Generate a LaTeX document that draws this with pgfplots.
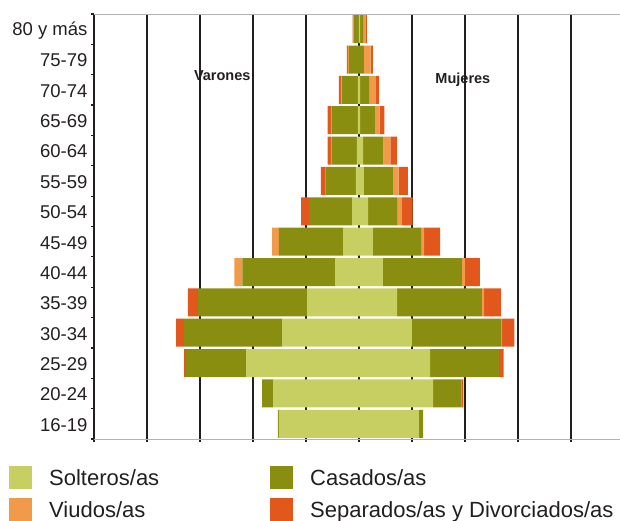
\documentclass[border=0pt]{standalone}
\usepackage{fontspec}
\setmainfont{Liberation Sans}
\usepackage{pgfplots}
\usepackage{pgfplotstable}
\pgfplotsset{compat=1.18}
\definecolor{solt}{HTML}{C8CF62}
\definecolor{casa}{HTML}{8A8E10}
\definecolor{viud}{HTML}{F09A4A}
\definecolor{sepa}{HTML}{E2571B}
\definecolor{ink}{HTML}{231F20}

% y: 0 = 16-19 ... 13 = 80 y mas ; s Solteros, c Casados, v Viudos, d Separados/Divorciados
\pgfplotstableread{
y s c v d
0 1.51 0.02 0 0
1 1.62 0.21 0 0
2 2.13 1.13 0 0.04
3 1.45 1.85 0 0.15
4 0.98 2.06 0 0.19
5 0.45 1.75 0.15 0
6 0.30 1.21 0.13 0
7 0.13 0.81 0 0.15
8 0.06 0.57 0 0.09
9 0.04 0.47 0.02 0.06
10 0.02 0.49 0.02 0.06
11 0.02 0.31 0.01 0.04
12 0 0.19 0.02 0.02
13 0 0.10 0.01 0.01
}\men

\pgfplotstableread{
y s c v d
0 1.13 0.08 0 0
1 1.40 0.53 0 0.04
2 1.34 1.30 0 0.09
3 1.00 1.68 0.02 0.23
4 0.72 1.60 0.04 0.32
5 0.45 1.49 0.06 0.28
6 0.26 0.91 0.06 0.30
7 0.17 0.55 0.08 0.21
8 0.09 0.55 0.11 0.17
9 0.08 0.38 0.13 0.13
10 0.02 0.28 0.09 0.09
11 0.02 0.17 0.13 0.06
12 0 0.09 0.13 0.04
13 0.02 0.06 0.04 0.03
}\women

\pgfplotsset{
  base/.style={scale only axis, width=526pt, height=425pt,
    at={(0,0)}, anchor=south west,
    xmin=-5, xmax=4.925, ymin=-0.5, ymax=13.5,
    xbar stacked, bar width=28pt},
  legbase/.style={scale only axis, width=526pt, height=425pt,
    at={(0,0)}, anchor=south west, hide axis,
    xmin=0, xmax=1, ymin=0, ymax=1,
    legend cell align=left,
    legend image code/.code={\fill[##1] (0pt,-11pt) rectangle (23pt,12pt);},
    legend style={draw=none, fill=none, inner sep=0pt, column sep=17pt, row sep=9pt,
      font=\fontsize{22}{24}\selectfont, nodes={inner sep=0pt, text=ink}}},
}

\begin{document}
\begin{tikzpicture}
\useasboundingbox (-94pt,-82pt) rectangle (526pt,439pt);

% Varones
\begin{axis}[base,
  axis x line*=bottom, axis y line*=left,
  x axis line style={draw=gray!60, line width=0.8pt, -},
  y axis line style={draw=ink, line width=1.6pt, -},
  xtick={-5,...,4}, xticklabels={},
  xmajorgrids, major grid style={draw=ink, line width=1.6pt},
  ytick={0,...,13},
  yticklabels={16-19,20-24,25-29,30-34,35-39,40-44,45-49,50-54,55-59,60-64,65-69,70-74,75-79,80 y más},
  minor ytick={-0.5,0.5,...,13.5},
  tick align=outside, major tick length=3pt, minor tick length=3pt,
  major y tick style={draw=none},
  minor y tick style={draw=ink, line width=1.2pt},
  major x tick style={draw=ink, line width=1.2pt},
  yticklabel style={font=\fontsize{18.5}{20}\selectfont, text=ink, yshift=-1pt},
]
\addplot[fill=solt, draw=none] table[x expr=-\thisrow{s}, y=y] {\men};
\addplot[fill=casa, draw=none] table[x expr=-\thisrow{c}, y=y] {\men};
\addplot[fill=viud, draw=none] table[x expr=-\thisrow{v}, y=y] {\men};
\addplot[fill=sepa, draw=none] table[x expr=-\thisrow{d}, y=y] {\men};
\node[font=\bfseries\fontsize{14.5}{16}\selectfont, text=ink] at (axis cs:-2.58,11.46) {Varones};
\end{axis}

% Mujeres
\begin{axis}[base,
  axis x line*=top, axis y line=none,
  x axis line style={draw=gray!60, line width=0.8pt, -},
  xtick=\empty, ytick=\empty,
]
\addplot[fill=solt, draw=none] table[x=s, y=y] {\women};
\addplot[fill=casa, draw=none] table[x=c, y=y] {\women};
\addplot[fill=viud, draw=none] table[x=v, y=y] {\women};
\addplot[fill=sepa, draw=none] table[x=d, y=y] {\women};
\node[font=\bfseries\fontsize{14.5}{16}\selectfont, text=ink] at (axis cs:1.96,11.32) {Mujeres};
\end{axis}

% Legend column 1
\begin{axis}[legbase, legend style={at={(-0.1616,-0.0635)}, anchor=north west}]
\addlegendimage{fill=solt, draw=none}
\addlegendentry{Solteros/as}
\addlegendimage{fill=viud, draw=none}
\addlegendentry{Viudos/as}
\end{axis}

% Legend column 2
\begin{axis}[legbase, legend style={at={(0.3346,-0.0635)}, anchor=north west}]
\addlegendimage{fill=casa, draw=none}
\addlegendentry{Casados/as}
\addlegendimage{fill=sepa, draw=none}
\addlegendentry{Separados/as y Divorciados/as}
\end{axis}
\end{tikzpicture}
\end{document}
